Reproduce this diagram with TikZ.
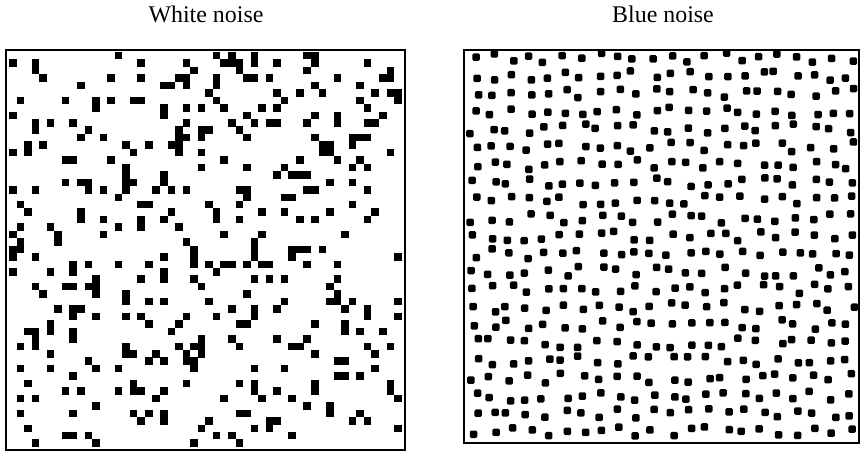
\documentclass[tikz,border=0pt]{standalone}
\usepackage{fontspec}
\setmainfont{Liberation Serif}
\usetikzlibrary{positioning}

\tikzset{
  frame/.style={line width=1.3pt},
  title/.style={anchor=base,font=\fontsize{17}{20}\selectfont},
  dot/.style={fill=black}
}

\begin{document}
\begin{tikzpicture}[x=0.025cm,y=-0.025cm]
  \useasboundingbox (0,0) rectangle (861,452);

  % Titles
  \node[title] (wtitle) at (206,23) {White noise};
  \node[title] (btitle) at (663,23) {Blue noise};

  % White noise: independent random pixels
  \pgfmathsetseed{4711}
  \foreach \i in {0,...,51}{
    \foreach \j in {0,...,52}{
      \pgfmathsetmacro\r{rnd}
      \ifdim\r pt<0.15pt
        \fill[dot] (9+7.55*\i,52+7.45*\j) rectangle ++(7.6,7.5);
      \fi
    }
  }
  \draw[frame] (6,50) rectangle (405,450);

  % Blue noise: jittered grid
  \foreach \i in {0,...,21}{
    \foreach \j in {0,...,21}{
      \pgfmathsetmacro\dx{5*rand}
      \pgfmathsetmacro\dy{5*rand}
      \fill[dot, rounded corners=1] (470+17.9*\i+\dx,54+17.8*\j+\dy) rectangle ++(7.5,7.5);
    }
  }
  \draw[frame] (464,50) rectangle (859,443);
\end{tikzpicture}
\end{document}
